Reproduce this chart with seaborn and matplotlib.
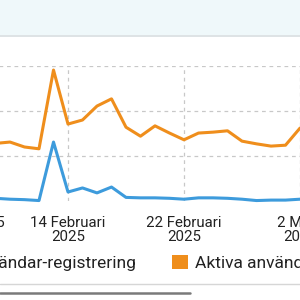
import matplotlib
matplotlib.use("Agg")
import matplotlib.pyplot as plt
import matplotlib.dates as mdates
from matplotlib.patches import Patch, Rectangle
from matplotlib.lines import Line2D
import seaborn as sns
import pandas as pd
import numpy as np

# ---- data ----
dates = pd.date_range("2025-02-09", "2025-03-02", freq="D")
new_users = [6, 4, 3, 1, 131, 20, 29, 18, 31, 8, 7, 7, 6, 4, 7, 7, 6, 4, 1, 2, 2, 4]
active_users = [128, 131, 120, 116, 291, 171, 180, 211, 227, 164, 144, 167, 151, 136,
                151, 153, 156, 133, 127, 122, 124, 162]
series_names = ["Ny användar-registrering", "Aktiva användare"]
series_colors = ["#3D9BDC", "#EF8E1C"]
tick_dates = ["2025-02-06", "2025-02-14", "2025-02-22", "2025-03-02"]
tick_labels = ["6 Februari 2025", "14 Februari\n2025", "22 Februari\n2025", "2 Mars\n2025"]

df = pd.DataFrame({
    "date": list(dates) * 2,
    "value": new_users + active_users,
    "series": [series_names[0]] * len(dates) + [series_names[1]] * len(dates),
})

sns.set_theme(style="white")
plt.rcParams["font.family"] = ["Roboto", "DejaVu Sans"]

W = H = 300
fig = plt.figure(figsize=(3, 3), dpi=100)
fig.patch.set_facecolor("white")

# top band
fig.patches.append(Rectangle((0, 1 - 35 / H), 1, 35 / H, transform=fig.transFigure,
                             facecolor="#EFF8FA", edgecolor="none", zorder=0))
fig.lines.append(Line2D([0, 1], [1 - 35.5 / H] * 2, transform=fig.transFigure,
                        color="#D8DEE0", lw=1.2))
# bottom rule and scrollbar
fig.lines.append(Line2D([0, 1], [1 - 284 / H] * 2, transform=fig.transFigure,
                        color="#D6D6D6", lw=1.0))
fig.lines.append(Line2D([0, 190 / W], [1 - 293 / H] * 2, transform=fig.transFigure,
                        color="#7A7A7A", lw=1.8))

LEFT_PX = -70  # axes extends beyond the left edge of the figure
ax = fig.add_axes([LEFT_PX / W, 1 - 201 / H, (W - LEFT_PX) / W, 135 / H])
ax.set_facecolor("none")

sns.lineplot(data=df, x="date", y="value", hue="series", palette=series_colors,
             hue_order=series_names, linewidth=2.2, legend=False, ax=ax,
             clip_on=False, zorder=3)

ax.set_xticks([mdates.date2num(pd.Timestamp(d)) for d in tick_dates])
ax.set_xticklabels(tick_labels, fontsize=10.8, color="#222222", linespacing=1.0)
ax.set_yticks([100, 200, 300])
ax.set_yticklabels([])

d14 = mdates.date2num(pd.Timestamp("2025-02-14"))
d_end = mdates.date2num(pd.Timestamp("2025-03-02"))
ax.set_xlim(d14 - (68 - LEFT_PX) / 14.5, d_end)
ax.set_ylim(0, 300)

ax.tick_params(axis="x", length=0, pad=10.8)
ax.tick_params(axis="y", length=0)
ax.grid(True, color="#C8C8C8", linestyle=(0, (3, 3)), linewidth=0.9)
ax.set_xlabel("")
ax.set_ylabel("")
for s in ax.spines.values():
    s.set_visible(False)

# legend
h1 = [Patch(facecolor=series_colors[0], edgecolor="none")]
h2 = [Patch(facecolor=series_colors[1], edgecolor="none")]
common = dict(frameon=False, borderpad=0, borderaxespad=0, handlelength=0.92,
              handleheight=0.92, handletextpad=0.42, fontsize=12.5,
              labelcolor="#222222")
fig.legend(h1, [series_names[0]], loc="center right",
           bbox_to_anchor=(136 / W, 1 - 263 / H), **common)
fig.legend(h2, [series_names[1]], loc="center left",
           bbox_to_anchor=(172 / W, 1 - 263 / H), **common)

fig.savefig("out.png", dpi=100)
